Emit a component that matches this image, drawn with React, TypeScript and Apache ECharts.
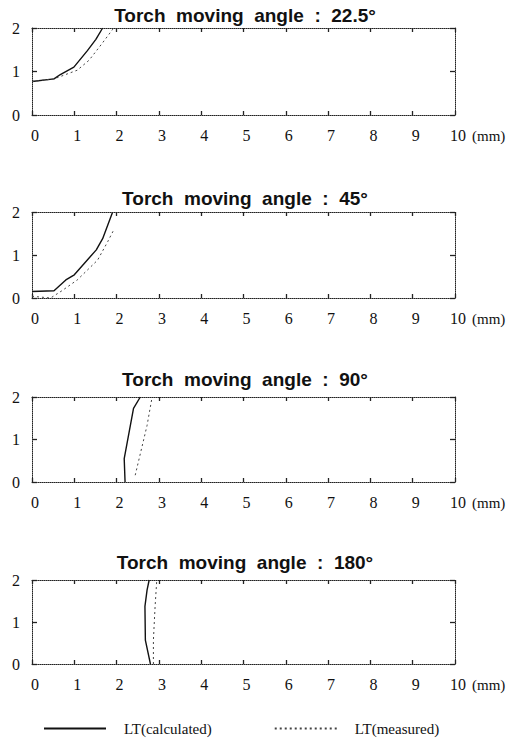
import React, { useEffect, useRef } from "react";
import * as echarts from "echarts";

const titles = [
  "Torch  moving  angle  :  22.5°",
  "Torch  moving  angle  :  45°",
  "Torch  moving  angle  :  90°",
  "Torch  moving  angle  :  180°",
];

const calc225: number[][] = [[0, 0.77], [0.52, 0.83], [0.67, 0.93], [0.99, 1.1], [1.31, 1.48], [1.51, 1.74], [1.67, 2.0]];
const meas225: number[][] = [[0, 0.77], [0.52, 0.83], [1.07, 1.03], [1.35, 1.26], [1.63, 1.61], [1.9, 1.96], [1.93, 2.0]];
const calc45: number[][] = [[0, 0.15], [0.52, 0.17], [0.8, 0.42], [1.0, 0.54], [1.24, 0.81], [1.52, 1.12], [1.67, 1.38], [1.9, 1.98]];
const meas45: number[][] = [[0, 0.04], [0.44, 0], [0.71, 0.17], [1.07, 0.42], [1.55, 0.88], [1.79, 1.31], [1.92, 1.56]];
const calc90: number[][] = [[2.2, 0], [2.18, 0.55], [2.4, 1.73], [2.56, 2.0]];
const meas90: number[][] = [[2.44, 0.16], [2.72, 1.33], [2.84, 2.0]];
const calc180: number[][] = [[2.8, 0], [2.68, 0.57], [2.67, 1.37], [2.72, 1.76], [2.77, 2.0]];
const meas180: number[][] = [[2.87, 0], [2.87, 0.57], [2.91, 1.37], [2.95, 2.0]];

const calcSeries = [calc225, calc45, calc90, calc180];
const measSeries = [meas225, meas45, meas90, meas180];

const xTicks = [0, 10];
const yTicks = [0, 2];

const gridTops = [28, 212, 397, 580];
const gridHeights = [87, 86, 85, 84];
const titleY = [15, 198, 379, 562];

export default function App() {
  const ref = useRef<HTMLDivElement>(null);
  useEffect(() => {
    const chart = echarts.init(ref.current!, null, { renderer: "svg" });
    const serif = "'Liberation Serif', 'Times New Roman', serif";
    const lineCol = "#222";
    const grids: any[] = [];
    const xAxes: any[] = [];
    const yAxes: any[] = [];
    const series: any[] = [];
    const graphics: any[] = [];
    for (let i = 0; i < 4; i++) {
      grids.push({ left: 32, width: 423, top: gridTops[i], height: gridHeights[i] });
      const baseX = {
        type: "value", gridIndex: i, min: xTicks[0], max: xTicks[1], interval: 1,
        axisLine: { show: true, onZero: false, lineStyle: { color: lineCol, type: "dotted", width: 1 } },
        axisTick: { show: true, inside: true, length: 4, lineStyle: { color: lineCol, width: 1.3 } },
        splitLine: { show: false },
      };
      xAxes.push({
        ...baseX, position: "bottom",
        axisLabel: { show: true, margin: 12, fontFamily: serif, fontSize: 16, color: "#111", padding: [0, 0, 0, 6] },
      });
      xAxes.push({ ...baseX, position: "top", axisLabel: { show: false } });
      const baseY = {
        type: "value", gridIndex: i, min: yTicks[0], max: yTicks[1], interval: 1,
        axisLine: { show: true, onZero: false, lineStyle: { color: lineCol, type: "dotted", width: 1 } },
        axisTick: { show: true, inside: true, length: 5, lineStyle: { color: lineCol, width: 1.3 } },
        splitLine: { show: false },
      };
      yAxes.push({
        ...baseY, position: "left",
        axisLabel: { show: true, margin: 12, fontFamily: serif, fontSize: 16, color: "#111" },
      });
      yAxes.push({ ...baseY, position: "right", axisLabel: { show: false } });
      series.push({
        name: "LT(calculated)", type: "line", xAxisIndex: i * 2, yAxisIndex: i * 2,
        data: calcSeries[i], symbol: "none", lineStyle: { color: "#111", width: 1.4 },
        itemStyle: { color: "#111" },
      });
      series.push({
        name: "LT(measured)", type: "line", xAxisIndex: i * 2, yAxisIndex: i * 2,
        data: measSeries[i], symbol: "none", lineStyle: { color: "#444", width: 1, type: [2, 3] },
        itemStyle: { color: "#444" },
      });
      graphics.push({
        type: "text", x: 245, y: titleY[i],
        style: { text: titles[i], font: "bold 19px 'Liberation Sans'", fill: "#111", textAlign: "center", textVerticalAlign: "middle" },
      });
      graphics.push({
        type: "text", x: 472, y: gridTops[i] + gridHeights[i] + 21,
        style: { text: "(mm)", font: "15px 'Liberation Serif'", fill: "#111", textAlign: "left", textVerticalAlign: "middle" },
      });
    }
    chart.setOption({
      animation: false,
      backgroundColor: "#fff",
      grid: grids,
      xAxis: xAxes,
      yAxis: yAxes,
      series,
      graphic: graphics,
      legend: {
        left: 38, top: 716, itemWidth: 62, itemHeight: 10, itemGap: 62,
        data: ["LT(calculated)", "LT(measured)"],
        itemStyle: { opacity: 0 },
        textStyle: { fontFamily: serif, fontSize: 15, color: "#111", padding: [0, 0, 0, 13] },
      },
    });
    return () => chart.dispose();
  }, []);
  return <div ref={ref} style={{ position: "absolute", left: 0, top: 0, width: 520, height: 746 }} />;
}
